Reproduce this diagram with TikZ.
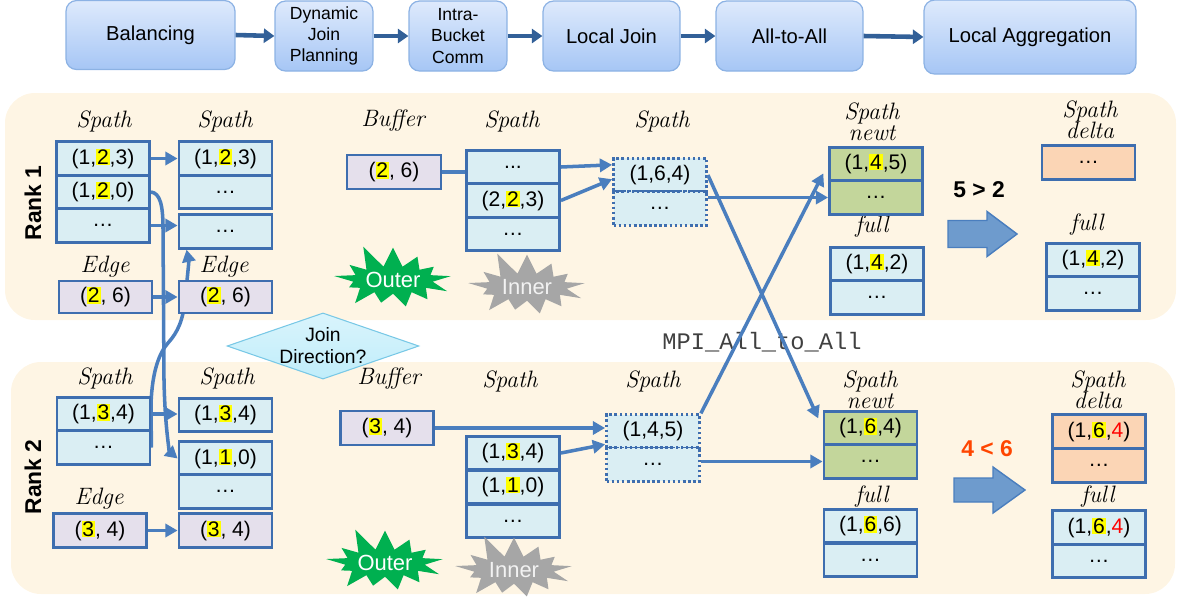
\documentclass[tikz,border=0pt]{standalone}
\usepackage{fontspec}
\setsansfont{Liberation Sans}
\setmonofont{Liberation Mono}
\usetikzlibrary{arrows.meta,shapes.geometric,shapes.symbols}
\definecolor{boxblue}{RGB}{62,110,175}
\definecolor{arrowblue}{RGB}{74,126,190}
\definecolor{topblue}{RGB}{50,96,152}
\definecolor{topedge}{RGB}{140,178,228}
\definecolor{toptop}{RGB}{222,234,252}
\definecolor{topbot}{RGB}{166,198,245}
\definecolor{cellblue}{RGB}{218,238,243}
\definecolor{lavend}{RGB}{229,224,236}
\definecolor{newtgreen}{RGB}{195,214,155}
\definecolor{peach}{RGB}{251,213,181}
\definecolor{panel}{RGB}{254,245,228}
\definecolor{hlyel}{RGB}{255,255,0}
\definecolor{dircyan}{RGB}{192,237,250}
\definecolor{diredge}{RGB}{120,200,230}
\definecolor{outergreen}{RGB}{0,176,80}
\definecolor{innergray}{RGB}{166,166,166}
\definecolor{barfill}{RGB}{110,155,205}
\definecolor{cmpred}{RGB}{255,69,0}
\definecolor{mpigray}{RGB}{64,64,64}
\newcommand{\hl}[1]{{\setlength{\fboxsep}{0.5pt}\colorbox{hlyel}{#1}}}
\newcommand{\rd}[1]{\textcolor{red}{#1}}
\pgfdeclarelayer{back}
\pgfdeclarelayer{mid}
\pgfsetlayers{back,mid,main}
\begin{document}
\begin{tikzpicture}[x=0.02cm,y=-0.02cm,
  topbox/.style={draw=topedge, line width=0.7pt, rounded corners=6pt, top color=toptop, bottom color=topbot,
    align=center, inner sep=0pt, font=\sffamily\fontsize{11.5}{13.5}\selectfont},
  toparrow/.style={draw=topblue, line width=2.6pt, -{Triangle[length=6pt,width=8pt]}},
  cell/.style={draw=boxblue, line width=1.6pt, minimum width=1.86cm, minimum height=0.67cm, inner sep=0pt,
    font=\sffamily\fontsize{12}{14}\selectfont},
  lb/.style={cell, fill=cellblue},
  lav/.style={cell, fill=lavend},
  grn/.style={cell, fill=newtgreen},
  pch/.style={cell, fill=peach},
  dotcell/.style={cell, fill=cellblue, dash pattern=on 1.5pt off 1.4pt},
  lbl/.style={font=\itshape\fontsize{13.5}{12}\selectfont, align=center, inner sep=0pt},
  conn/.style={draw=arrowblue, line width=2pt, -{Triangle[length=7pt,width=7.5pt]}},
  burst/.style={starburst, starburst points=13, starburst point height=0.5cm, random starburst=11,
    minimum width=2.6cm, minimum height=1.55cm, inner sep=0pt, font=\sffamily\fontsize{12.5}{14}\selectfont},
  barrow/.style={fill=barfill, draw=arrowblue, line width=0.8pt},
  rank/.style={rotate=90, font=\sffamily\bfseries\fontsize{13}{15}\selectfont}]
\useasboundingbox (0,0) rectangle (1177,603);
\begin{pgfonlayer}{back}
\fill[panel, rounded corners=0.6cm] (5,93) rectangle (1176,320);
\fill[panel, rounded corners=0.6cm] (11,362) rectangle (1175,594);
\end{pgfonlayer}
% pipeline
\node[topbox, minimum width=3.38cm, minimum height=1.38cm] (bal) at (150.5,35) {Balancing};
\node[topbox, minimum width=1.96cm, minimum height=1.4cm, font=\sffamily\fontsize{10}{12}\selectfont] (djp) at (324,36) {Dynamic\\Join\\Planning};
\node[topbox, minimum width=1.96cm, minimum height=1.4cm, font=\sffamily\fontsize{10}{12}\selectfont] (ibc) at (458,36) {Intra-\\Bucket\\Comm};
\node[topbox, minimum width=2.74cm, minimum height=1.4cm] (ljn) at (611.5,36) {Local Join};
\node[topbox, minimum width=2.94cm, minimum height=1.4cm] (ata) at (789.5,36) {All-to-All};
\node[topbox, minimum width=4.24cm, minimum height=1.48cm] (lag) at (1030,37) {Local Aggregation};
\draw[toparrow] (bal.east) -- (djp.west);
\draw[toparrow] (djp.east) -- (ibc.west);
\draw[toparrow] (ibc.east) -- (ljn.west);
\draw[toparrow] (ljn.east) -- (ata.west);
\draw[toparrow] (ata.east) -- (lag.west);
% rank 1
\node[rank] (rk1) at (33,203) {Rank 1};
\node[lbl] (r1la) at (104,121) {Spath};
\node[lbl] (r1lb) at (225,121) {Spath};
\node[lbl] (r1lbuf) at (393,121) {Buffer};
\node[lbl] (r1ls) at (512,121) {Spath};
\node[lbl] (r1ld) at (662,121) {Spath};
\node[lbl] (r1le1) at (105,267) {Edge};
\node[lbl] (r1le2) at (224,267) {Edge};
\node[lbl] (r1lg) at (872,122) {Spath\\newt};
\node[lbl] (r1lf) at (872,227) {full};
\node[lbl] (r1ldl) at (1090,120) {Spath\\delta};
\node[lbl] (r1lh) at (1087,225) {full};
\node[lb] (r1a1) at (103,158.5) {(1,\hl{2},3)};
\node[lb] (r1a2) at (103,192) {(1,\hl{2},0)};
\node[lb] (r1a3) at (103,225.5) {\ldots};
\node[lb] (r1b1) at (225.5,158.5) {(1,\hl{2},3)};
\node[lb] (r1b2) at (225.5,192) {\ldots};
\node[lb] (r1c) at (225.5,231.5) {\ldots};
\node[lav, minimum height=0.64cm] (r1e1) at (105.5,297) {(\hl{2}, 6)};
\node[lav, minimum height=0.64cm] (r1e2) at (225.5,297) {(\hl{2}, 6)};
\node[lav, minimum width=1.88cm, minimum height=0.68cm] (r1buf) at (394,172) {(\hl{2}, 6)};
\node[lb] (r1s1) at (513,167) {...};
\node[lb] (r1s2) at (513,200.5) {(2,\hl{2},3)};
\node[lb] (r1s3) at (513,234) {\ldots};
\node[dotcell] (r1d1) at (660,175) {(1,6,4)};
\node[dotcell] (r1d2) at (660,208.5) {\ldots};
\node[grn] (r1g1) at (876,164) {(1,\hl{4},5)};
\node[grn] (r1g2) at (876,197.5) {\ldots};
\node[lb] (r1f1) at (877,264) {(1,\hl{4},2)};
\node[lb] (r1f2) at (877,297.5) {\ldots};
\node[pch] (r1dl) at (1088.5,162.5) {\ldots};
\node[lb] (r1h1) at (1093,260) {(1,\hl{4},2)};
\node[lb] (r1h2) at (1093,293.5) {\ldots};
\node[font=\sffamily\bfseries\fontsize{13}{15}\selectfont] (cmp1) at (979,190) {5 > 2};
\filldraw[barrow] (948,220.5) -- (987,220.5) -- (987,211.5) -- (1017,234) -- (987,256.5) -- (987,247.5) -- (948,247.5) -- cycle;
\node[burst, fill=outergreen, text=white] (out1) at (393,280) {Outer};
\node[burst, fill=innergray, text=white!90!gray] (inn1) at (527,287) {Inner};
% rank 2
\node[rank] (rk2) at (33,477) {Rank 2};
\node[lbl] (r2la) at (105,378) {Spath};
\node[lbl] (r2lb) at (227,378) {Spath};
\node[lbl] (r2lbuf) at (389,379) {Buffer};
\node[lbl] (r2ls) at (510,381) {Spath};
\node[lbl] (r2ld) at (653,381) {Spath};
\node[lbl] (r2le) at (99,499) {Edge};
\node[lbl] (r2lg) at (870,390) {Spath\\newt};
\node[lbl] (r2lf) at (872,497) {full};
\node[lbl] (r2ldl) at (1098,390) {Spath\\delta};
\node[lbl] (r2lh) at (1098,497) {full};
\node[lb] (r2a1) at (103.5,414) {(1,\hl{3},4)};
\node[lb] (r2a2) at (103.5,447.5) {\ldots};
\node[lb] (r2b1) at (225.5,415) {(1,\hl{3},4)};
\node[lb] (r2b2) at (225.5,458.5) {(1,\hl{1},0)};
\node[lb] (r2b3) at (225.5,491.5) {\ldots};
\node[lav, minimum height=0.68cm] (r2e1) at (100,530.5) {(\hl{3}, 4)};
\node[lav, minimum height=0.68cm] (r2e2) at (225.5,530.5) {(\hl{3}, 4)};
\node[lav, minimum width=1.86cm, minimum height=0.68cm] (r2buf) at (387,428) {(\hl{3}, 4)};
\node[lb] (r2s1) at (513,453) {(1,\hl{3},4)};
\node[lb] (r2s2) at (513,487) {(1,\hl{1},0)};
\node[lb] (r2s3) at (513,521) {\ldots};
\node[dotcell] (r2d1) at (653,431.5) {(1,4,5)};
\node[dotcell] (r2d2) at (653,464.5) {\ldots};
\node[grn] (r2g1) at (870.5,428) {(1,\hl{6},4)};
\node[grn] (r2g2) at (870.5,461.5) {\ldots};
\node[lb] (r2f1) at (870.5,526) {(1,\hl{6},6)};
\node[lb] (r2f2) at (870.5,560) {\ldots};
\node[pch] (r2dl1) at (1099,431.5) {(1,\hl{6},\rd{4})};
\node[pch] (r2dl2) at (1099,465.5) {\ldots};
\node[lb] (r2h1) at (1099,527.5) {(1,\hl{6},\rd{4})};
\node[lb] (r2h2) at (1099,561) {\ldots};
\node[font=\sffamily\bfseries\fontsize{13}{15}\selectfont, text=cmpred] (cmp2) at (987,449) {4 < 6};
\filldraw[barrow] (954,478) -- (993,478) -- (993,467) -- (1025,490) -- (993,513) -- (993,502) -- (954,502) -- cycle;
\node[burst, fill=outergreen, text=white] (out2) at (385,563) {Outer};
\node[burst, fill=innergray, text=white!90!gray] (inn2) at (514,570) {Inner};
% between the ranks
\node[diamond, aspect=2.9, draw=diredge, line width=0.6pt, top color=dircyan!60!white, bottom color=dircyan, minimum width=3.7cm,
  inner sep=0pt, align=center, font=\sffamily\fontsize{11}{12.5}\selectfont] (jdir) at (323,346) {Join\\Direction?};
\node[font=\ttfamily\fontsize{13.5}{15}\selectfont, text=mpigray] (mpi) at (762,342) {MPI\_All\_to\_All};
% connectors
\begin{pgfonlayer}{mid}
\draw[conn] (r1a2.east) .. controls (160,193) and (163,205) .. (163,228) -- (164,380) .. controls (165,430) and (170,452) .. (r2b2.west);
\draw[conn] (r2a2.east) -- (151,405) .. controls (152,370) and (160,352) .. (168,343) .. controls (178,332) and (183,320) .. (185,300) .. controls (187,280) and (189,262) .. (r1c.205);
\end{pgfonlayer}
\draw[conn] (r1a1.east) -- (r1b1.west);
\draw[conn] (r1a3.east) -- (r1a3.east -| r1c.west);
\draw[conn] (r1e1.east) -- (r1e2.west);
\draw[conn] (r2a1.east) -- (r2a1.east -| r2b1.west);
\draw[conn] (r2e1.east) -- (r2e2.west);
\draw[draw=arrowblue, line width=2pt] (r1buf.east) -- (r1buf.east -| r1s1.west);
\draw[conn] (r1s1.east) -- (r1d1.168);
\draw[conn] (r1s2.east) -- (r1d1.185);
\draw[conn] (r2buf.east) -- (r2buf.east -| r2d1.west);
\draw[conn] (r2s1.east) -- (r2d1.195);
\draw[conn] (r1d2.east |- r1g2.west) -- (r1g2.west);
\draw[conn] (r2d2.east |- r2g2.west) -- (r2g2.west);
\draw[conn, shorten >=6pt] (r1d1.east) -- (r2g1.west);
\draw[conn, shorten >=6pt] (r2d1.north east) -- (r1g1.west);
\end{tikzpicture}
\end{document}
